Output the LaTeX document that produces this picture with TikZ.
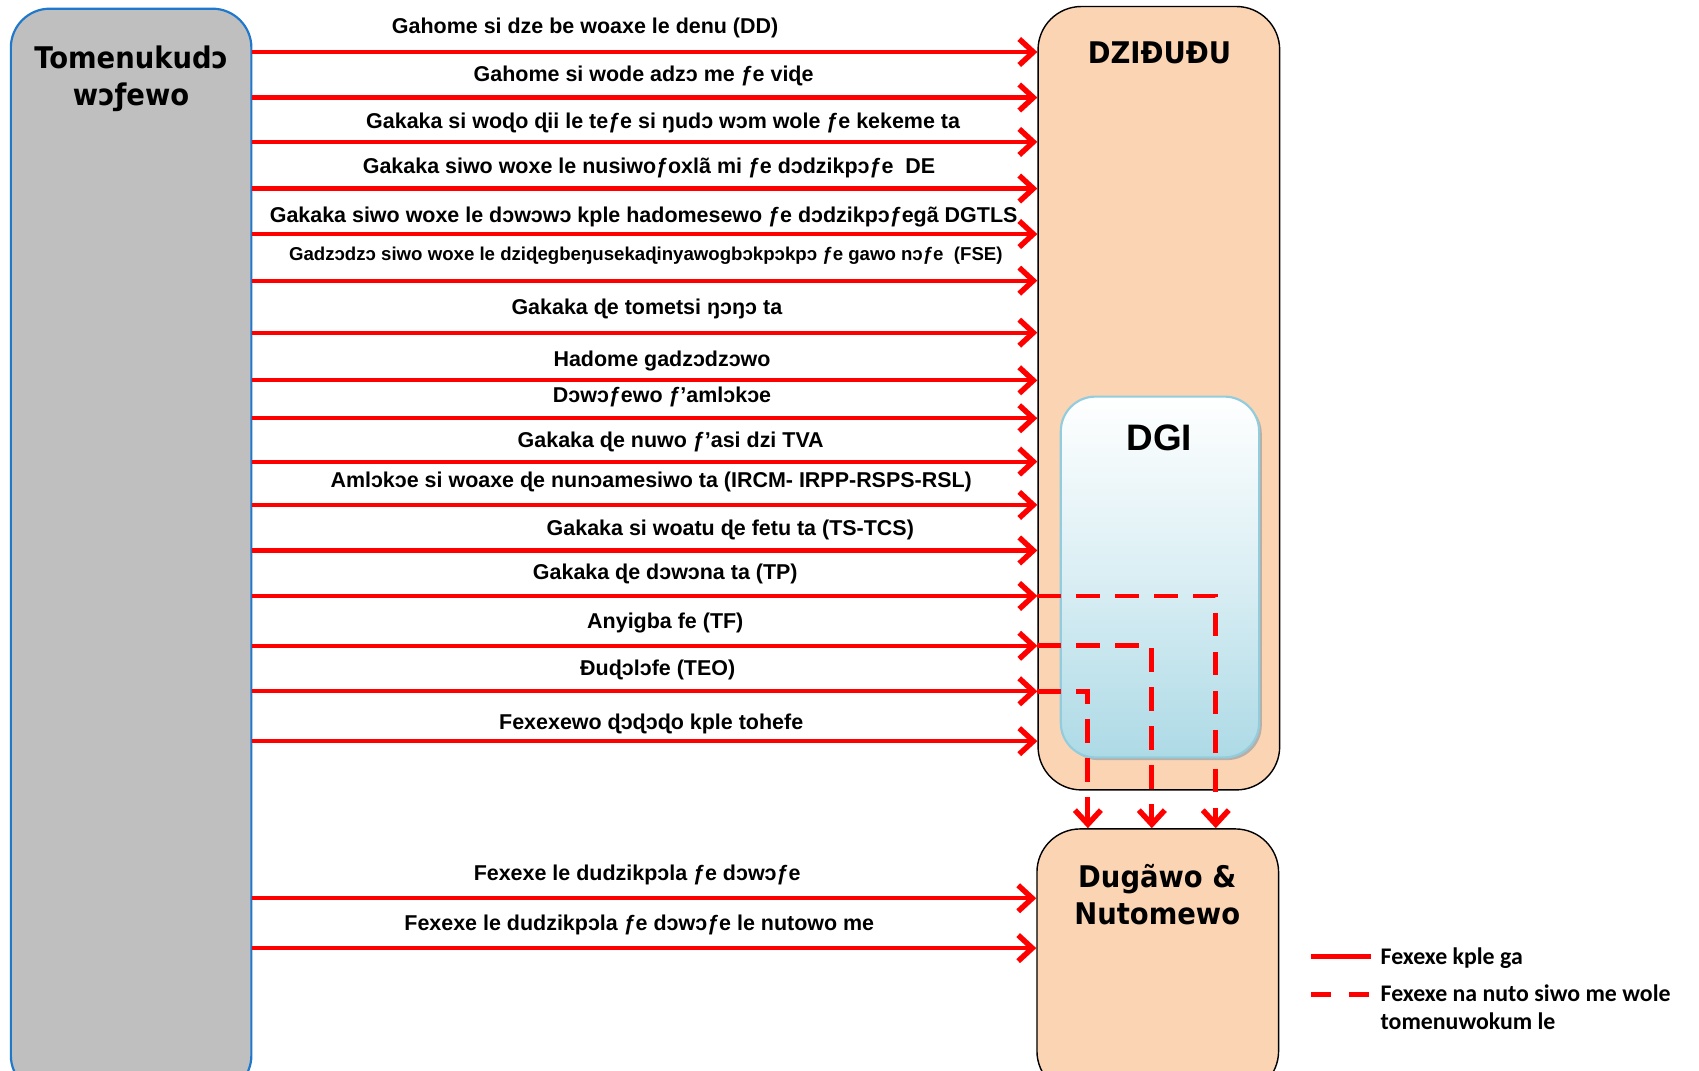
\documentclass[tikz,border=0pt]{standalone}
\usepackage{fontspec}
\setmainfont{Liberation Sans}
\newfontfamily\titlefont{DejaVu Sans}[FakeStretch=0.92]
\newfontfamily\legendfont{Carlito}
\usetikzlibrary{arrows.meta,shadows}
\definecolor{leftgray}{HTML}{BFBFBF}
\definecolor{leftblue}{HTML}{1F78CC}
\definecolor{peach}{HTML}{FBD4B4}
\definecolor{dgiborder}{HTML}{93CDDD}
\definecolor{dgibottom}{HTML}{ADDAE6}
\begin{document}
\begin{tikzpicture}[x=1pt,y=-1pt,
  lbl/.style={font=\fontsize{19.8}{23}\selectfont\bfseries, anchor=base, inner sep=0pt},
  smalllbl/.style={lbl, font=\fontsize{17.2}{20}\selectfont\bfseries},
  tip/.style={-{Straight Barb[length=13pt,width=24pt,line width=5pt]}},
  arr/.style={draw=red, line width=3.8pt, tip},
  dasharr/.style={draw=red, line width=4.5pt, dash pattern=on 22pt off 14pt, tip},
  boxtitle/.style={font=\titlefont\fontsize{27.5}{34}\selectfont\bfseries, align=center, inner sep=0pt},
  legendtxt/.style={font=\legendfont\fontsize{22}{26}\selectfont\bfseries, anchor=base west, inner sep=0pt, align=left}
]
\useasboundingbox (0,0) rectangle (1568,988);
\clip (0,0) rectangle (1568,988);
\fill[white] (0,0) rectangle (1568,988);

% boxes
\node[draw=leftblue, line width=2pt, fill=leftgray, rounded corners=36pt,
      minimum width=222pt, minimum height=1002pt, inner sep=0pt] (L) at (121,509) {};
\node[draw=black, line width=1.3pt, fill=peach, rounded corners=40pt,
      minimum width=223pt, minimum height=723pt, inner sep=0pt] (D) at (1069.5,367.5) {};
\node[draw=black, line width=1.3pt, fill=peach, rounded corners=40pt,
      minimum width=223pt, minimum height=245pt, inner sep=0pt] (B) at (1068.5,887.5) {};
\node[draw=dgiborder, line width=2pt, rounded corners=32pt,
      top color=white, bottom color=dgibottom, middle color=white!55!dgibottom,
      drop shadow={shadow xshift=2.5pt, shadow yshift=-2.5pt, fill=gray!70, opacity=0.8},
      minimum width=183pt, minimum height=333pt, inner sep=0pt] (G) at (1070.5,532.5) {};

% box titles
\node[boxtitle] (Lt) at (121,73) {Tomenukudɔ\\wɔƒewo};
\node[boxtitle, anchor=base] (Dt) at (1070,59) {DZIĐUĐU};
\node[font=\fontsize{34}{40}\selectfont\bfseries, anchor=base, inner sep=0pt] (Gt) at (1070,416) {DGI};
\node[boxtitle, anchor=center] (Bt) at (1068,826) {Dugãwo \&\\Nutomewo};

% solid arrows to DZIĐUĐU
\foreach \yy in {48,90,131,174,216,259,307,351,386,426,466,508,550,596,638,684}{
  \draw[arr] (L.east |- 0,\yy) -- (D.west |- 0,\yy);
}
% solid arrows to Dugãwo
\foreach \yy in {829,875}{
  \draw[arr] (L.east |- 0,\yy) -- (B.west |- 0,\yy);
}

% labels
\node[lbl] (a1) at (540,31) {Gahome si dze be woaxe le denu (DD)};
\node[lbl] (a2) at (594,75) {Gahome si wode adzɔ me ƒe viɖe};
\node[lbl] (a3) at (612,119) {Gakaka si woɖo ɖii le teƒe si ŋudɔ wɔm wole ƒe kekeme ta};
\node[lbl] (a4) at (599,160) {Gakaka siwo woxe le nusiwoƒoxlã mi ƒe dɔdzikpɔƒe\ \ DE};
\node[lbl] (a5) at (594,205) {Gakaka siwo woxe le dɔwɔwɔ kple hadomesewo ƒe dɔdzikpɔƒegã DGTLS};
\node[smalllbl] (a6) at (596,240) {Gadzɔdzɔ siwo woxe le dziɖegbeŋusekaɖinyawogbɔkpɔkpɔ ƒe gawo nɔƒe\ \ (FSE)};
\node[lbl] (a7) at (597,290) {Gakaka ɖe tometsi ŋɔŋɔ ta};
\node[lbl] (a8) at (611,338) {Hadome gadzɔdzɔwo};
\node[lbl] (a9) at (611,371) {Dɔwɔƒewo ƒ’amlɔkɔe};
\node[lbl] (a10) at (619,413) {Gakaka ɖe nuwo ƒ’asi dzi TVA};
\node[lbl] (a11) at (601,450) {Amlɔkɔe si woaxe ɖe nunɔamesiwo ta (IRCM- IRPP-RSPS-RSL)};
\node[lbl] (a12) at (674,494) {Gakaka si woatu ɖe fetu ta (TS-TCS)};
\node[lbl] (a13) at (614,535) {Gakaka ɖe dɔwɔna ta (TP)};
\node[lbl] (a14) at (614,580) {Anyigba fe (TF)};
\node[lbl] (a15) at (607,623) {Đuɖɔlɔfe (TEO)};
\node[lbl] (a16) at (601,673) {Fexexewo ɖɔɖɔɖo kple tohefe};
\node[lbl] (a17) at (588,813) {Fexexe le dudzikpɔla ƒe dɔwɔƒe};
\node[lbl] (a18) at (590,859) {Fexexe le dudzikpɔla ƒe dɔwɔƒe le nutowo me};

% dashed transfers to Dugãwo
\coordinate (k1) at (1122,550);
\coordinate (k2) at (1063,596);
\coordinate (k3) at (1004,638);
\draw[dasharr] (D.west |- k1) -- (k1) -- (k1 |- B.north);
\draw[dasharr] (D.west |- k2) -- (k2) -- (k2 |- B.north);
\draw[dasharr] (D.west |- k3) -- (k3) -- (k3 |- B.north);

% legend
\coordinate (s1) at (1210,883);
\coordinate (s2) at (1265,883);
\coordinate (d1) at (1210,918);
\coordinate (d2) at (1263,918);
\draw[red, line width=4.5pt] (s1) -- (s2);
\draw[red, line width=4.5pt, dash pattern=on 18pt off 17pt] (d1) -- (d2);
\node[legendtxt] (l1) at (1274,890) {Fexexe kple ga};
\node[legendtxt] (l2) at (1274,950) {Fexexe na nuto siwo me wole\\tomenuwokum le};
\end{tikzpicture}
\end{document}
